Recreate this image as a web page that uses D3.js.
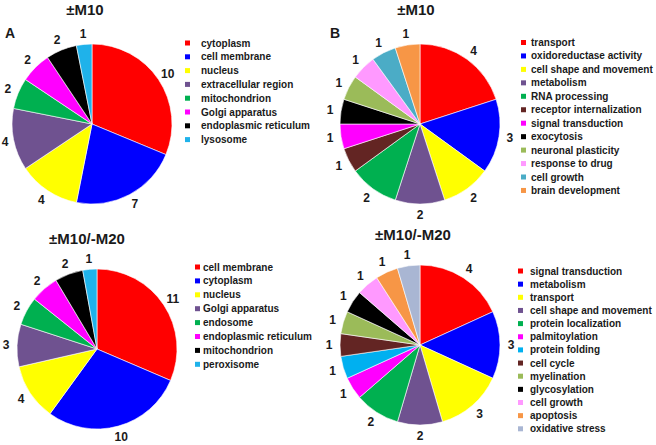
<!DOCTYPE html>
<html><head><meta charset="utf-8">
<script src="https://cdn.jsdelivr.net/npm/d3@7"></script>
<style>body{margin:0;background:#fff}svg{display:block}text{font-family:"Liberation Sans",Arial,sans-serif;font-weight:bold;fill:#1a1a1a}</style>
</head><body>
<svg id="c" width="656" height="445"></svg>
<script>
// ---- data ----
const catsA = ["cytoplasm","cell membrane","nucleus","extracellular region","mitochondrion","Golgi apparatus","endoplasmic reticulum","lysosome"];
const valsA = [10,7,4,4,2,2,2,1];
const colorsA = ["#ff0000","#0000ff","#ffff00","#6f5290","#00b050","#ff00ff","#000000","#1fb2ea"];

const catsB = ["transport","oxidoreductase activity","cell shape and movement","metabolism","RNA processing","receptor internalization","signal transduction","exocytosis","neuronal plasticity","response to drug","cell growth","brain development"];
const valsB = [4,3,2,2,2,1,1,1,1,1,1,1];
const colorsB = ["#ff0000","#0000ff","#ffff00","#6f5290","#00b050","#632523","#ff00ff","#000000","#9bbb59","#ff99ff","#4bacc6","#f79646"];

const catsC = ["cell membrane","cytoplasm","nucleus","Golgi apparatus","endosome","endoplasmic reticulum","mitochondrion","peroxisome"];
const valsC = [11,10,4,3,2,2,2,1];
const colorsC = ["#ff0000","#0000ff","#ffff00","#6f5290","#00b050","#ff00ff","#000000","#1fb2ea"];

const catsD = ["signal transduction","metabolism","transport","cell shape and movement","protein localization","palmitoylation","protein folding","cell cycle","myelination","glycosylation","cell growth","apoptosis","oxidative stress"];
const valsD = [4,3,3,2,2,1,1,1,1,1,1,1,1];
const colorsD = ["#ff0000","#0000ff","#ffff00","#6f5290","#00b050","#ff00ff","#00b0f0","#632523","#9bbb59","#000000","#ff99ff","#f79646","#a9b6d3"];

const titles = ["±M10","±M10","±M10/-M20","±M10/-M20"];

// ---- layout ----
const svg = d3.select("#c");
const panels = [
  {cats:catsA, vals:valsA, colors:colorsA, title:titles[0], cx:92, cy:124, tx:85, ty:15, lx:185, ly:43, lstep:13.8, ltx:201},
  {cats:catsB, vals:valsB, colors:colorsB, title:titles[1], cx:420, cy:124, tx:416, ty:15, lx:521, ly:42.5, lstep:13.45, ltx:531},
  {cats:catsC, vals:valsC, colors:colorsC, title:titles[2], cx:97, cy:349, tx:87, ty:244, lx:195, ly:267, lstep:13.9, ltx:203},
  {cats:catsD, vals:valsD, colors:colorsD, title:titles[3], cx:420, cy:345, tx:413, ty:240, lx:518, ly:271, lstep:13.15, ltx:530}
];
const R = 80;
const pie = d3.pie().sort(null).value(d => d);
const arc = d3.arc().innerRadius(0).outerRadius(R);
const labelArc = d3.arc().innerRadius(R + 11).outerRadius(R + 11);

panels.forEach(p => {
  const g = svg.append("g").attr("transform", `translate(${p.cx},${p.cy})`);
  const arcs = pie(p.vals);
  g.selectAll("path").data(arcs).join("path")
    .attr("d", arc)
    .attr("fill", (d, i) => p.colors[i])
    .attr("stroke", "#fff").attr("stroke-width", 0.6);
  g.selectAll("text.lbl").data(arcs).join("text").attr("class","lbl")
    .attr("transform", d => {
      const [x, y] = labelArc.centroid(d);
      return `translate(${Math.max(x, 5 - p.cx)},${y})`;
    })
    .attr("text-anchor","middle").attr("dy","0.35em")
    .attr("font-size", 12)
    .text(d => d.data);
  svg.append("text").attr("x", p.tx).attr("y", p.ty).attr("text-anchor","middle")
    .attr("font-size", 15).text(p.title);
  const lg = svg.append("g");
  p.cats.forEach((c, i) => {
    const y = p.ly + i * p.lstep;
    lg.append("rect").attr("x", p.lx).attr("y", y - 2.5).attr("width", 5).attr("height", 5).attr("fill", p.colors[i]);
    lg.append("text").attr("x", p.ltx).attr("y", y).attr("dy","0.35em").attr("font-size", 10).text(c);
  });
});
svg.append("text").attr("x", 5).attr("y", 38).attr("font-size", 14).text("A");
svg.append("text").attr("x", 330).attr("y", 38).attr("font-size", 14).text("B");
</script>
</body></html>
